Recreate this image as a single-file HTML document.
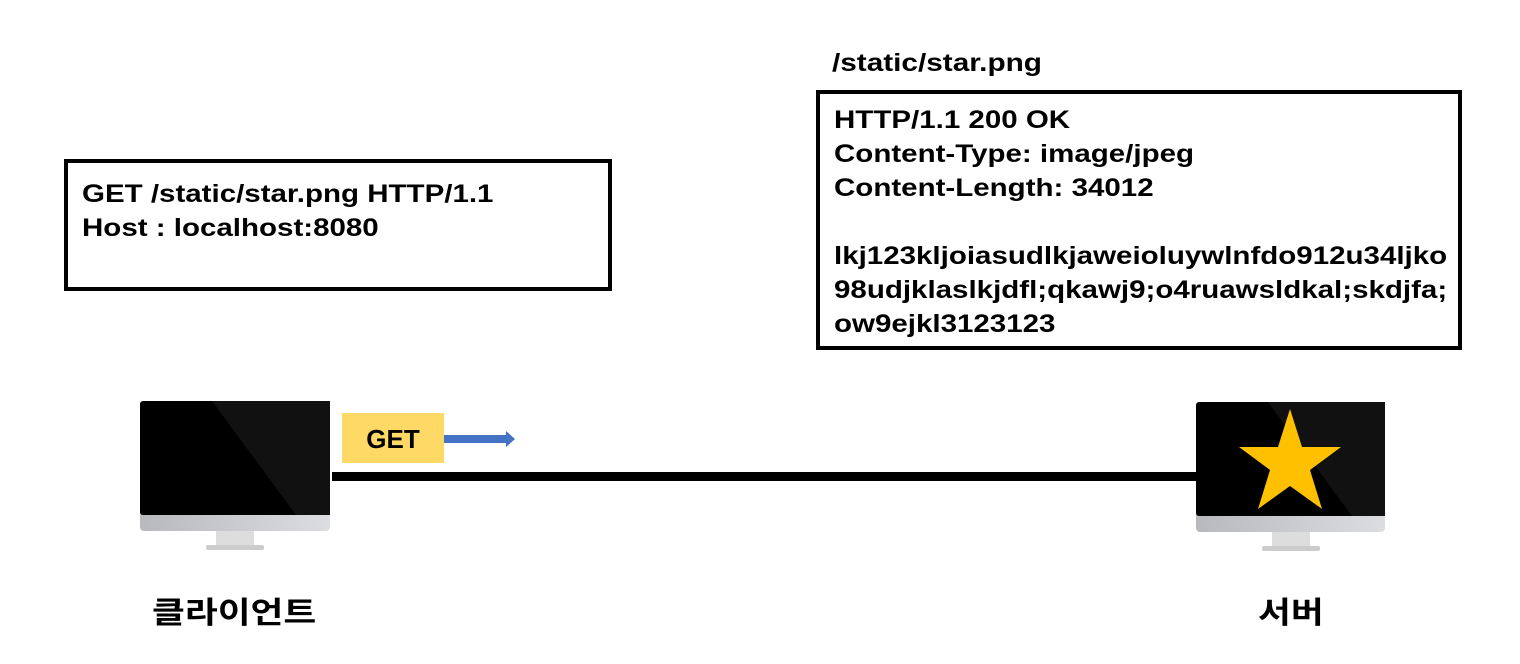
<!DOCTYPE html><html><head><meta charset="utf-8"><style>
body{margin:0;width:1520px;height:664px;background:#fff;position:relative;overflow:hidden;font-family:"Liberation Sans","Noto Sans CJK KR",sans-serif;font-weight:bold;color:#000}
.box{position:absolute;border:4px solid #000;box-sizing:border-box;font-size:25px;line-height:34px;padding:10px 14px}
.s{display:inline-block;transform:scaleX(1.18);transform-origin:0 0;white-space:nowrap}
.t{position:absolute;font-size:25px;transform:scaleX(1.19);transform-origin:0 0;white-space:nowrap}
</style></head><body>
<div class="t" style="left:832px;top:49px">/static/star.png</div>
<div class="box" style="left:64px;top:159px;width:548px;height:132px;padding-top:14px"><div class="s">GET /static/star.png HTTP/1.1<br>Host : localhost:8080</div></div>
<div class="box" style="left:816px;top:90px;width:646px;height:260px;padding-top:9px"><div class="s">HTTP/1.1 200 OK<br>Content-Type: image/jpeg<br>Content-Length: 34012<br><br>lkj123kljoiasudlkjaweioluywlnfdo912u34ljko<br>98udjklaslkjdfl;qkawj9;o4ruawsldkal;skdjfa;<br>ow9ejkl3123123</div></div>
<svg width="1520" height="664" style="position:absolute;left:0;top:0">
<defs><linearGradient id="g" x1="0" x2="1"><stop offset="0" stop-color="#b8b9bd"/><stop offset="1" stop-color="#dcdde0"/></linearGradient></defs>
<rect x="332" y="472" width="866" height="9" fill="#000"/>
<g>
<rect x="140" y="401" width="190" height="130" rx="4" fill="url(#g)"/>
<rect x="140" y="401" width="190" height="114" rx="3" fill="#000"/>
<polygon points="212,401 330,401 330,515 296,515" fill="#111"/>
<rect x="216" y="531" width="38" height="15" fill="#ddd"/>
<rect x="206" y="545" width="58" height="5" rx="2" fill="#ccc"/>
</g>
<g>
<rect x="1196" y="402" width="189" height="130" rx="4" fill="url(#g)"/>
<rect x="1196" y="402" width="189" height="114" rx="3" fill="#000"/>
<polygon points="1268,402 1385,402 1385,516 1352,516" fill="#111"/>
<rect x="1272" y="532" width="38" height="15" fill="#ddd"/>
<rect x="1262" y="546" width="58" height="5" rx="2" fill="#ccc"/>
<polygon points="1290,409 1302,447 1341,447 1310,470 1322,509 1290,486 1258,509 1270,470 1239,447 1278,447" fill="#ffc000"/>
</g>
<rect x="342" y="413" width="102" height="50" fill="#ffd966"/>
<text x="393" y="448" text-anchor="middle" font-size="26" font-weight="bold" font-family="Liberation Sans">GET</text>
<rect x="444" y="435" width="62" height="8" fill="#4472c4"/>
<polygon points="506,431 515,439 506,447" fill="#4472c4"/>
</svg>
<div class="t" style="left:152px;top:588px;font-size:30px">클라이언트</div>
<div class="t" style="left:1258px;top:588px;font-size:30px">서버</div>
</body></html>
